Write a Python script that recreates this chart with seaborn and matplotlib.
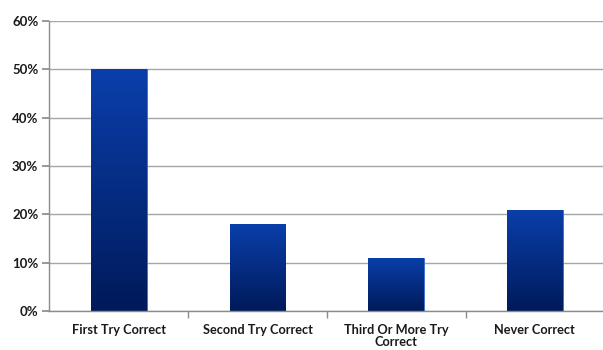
import numpy as np
import pandas as pd
import matplotlib
matplotlib.use("Agg")
import matplotlib.pyplot as plt
import seaborn as sns
from matplotlib.colors import LinearSegmentedColormap
from matplotlib.ticker import PercentFormatter, FixedLocator

categories = ["First Try Correct", "Second Try Correct", "Third Or More Try\nCorrect", "Never Correct"]
shares = [50, 18, 11, 21]

sns.set_theme(style="white")
plt.rcParams["font.family"] = ["Lato", "DejaVu Sans"]

df = pd.DataFrame({"category": categories, "share": shares})

fig = plt.figure(figsize=(6.03, 3.5), dpi=100)
ax = fig.add_axes([0.082, 0.111, 0.92, 0.829])

sns.barplot(data=df, x="category", y="share", color="#0a3a9e", width=0.40,
            ax=ax, edgecolor="#3a6ad0", linewidth=0.6)

ax.set_ylim(0, 60)
ax.set_xlim(-0.5, len(categories) - 0.5)
ax.yaxis.set_major_formatter(PercentFormatter(decimals=0))
ax.set_yticks(range(0, 61, 10))
ax.grid(axis="y", color="#a6a6a6", linewidth=1.0)
ax.set_axisbelow(True)
ax.set_xlabel("")
ax.set_ylabel("")

# Vertical blue gradient inside each bar
cmap = LinearSegmentedColormap.from_list("bar", ["#001a5a", "#0a3fab"])
grad = np.linspace(0, 1, 256).reshape(-1, 1)
for patch in ax.patches:
    x0, y0 = patch.get_x(), patch.get_y()
    w, h = patch.get_width(), patch.get_height()
    im = ax.imshow(grad, extent=[x0, x0 + w, y0, y0 + h], origin="lower",
                   cmap=cmap, aspect="auto", zorder=patch.get_zorder() + 0.1)
    im.set_clip_path(patch)
ax.set_xlim(-0.5, len(categories) - 0.5)
ax.set_ylim(0, 60)

for side in ["top", "right"]:
    ax.spines[side].set_visible(False)
for side in ["left", "bottom"]:
    ax.spines[side].set_color("#8c8c8c")
    ax.spines[side].set_linewidth(1.0)

ax.tick_params(axis="y", which="major", left=True, length=5, color="#8c8c8c",
               labelsize=9.5, pad=3, labelcolor="#1a1a1a")
ax.tick_params(axis="x", which="major", bottom=False, labelsize=9.2, pad=3,
               labelcolor="#1a1a1a")
ax.xaxis.set_minor_locator(FixedLocator([0.5, 1.5, 2.5]))
ax.tick_params(axis="x", which="minor", bottom=True, length=5, color="#8c8c8c")
for lbl in ax.get_xticklabels() + ax.get_yticklabels():
    lbl.set_fontweight("bold")
for lbl in ax.get_xticklabels():
    lbl.set_verticalalignment("top")
    lbl.set_linespacing(1.05)

fig.savefig("out.png", dpi=100, facecolor="white")
